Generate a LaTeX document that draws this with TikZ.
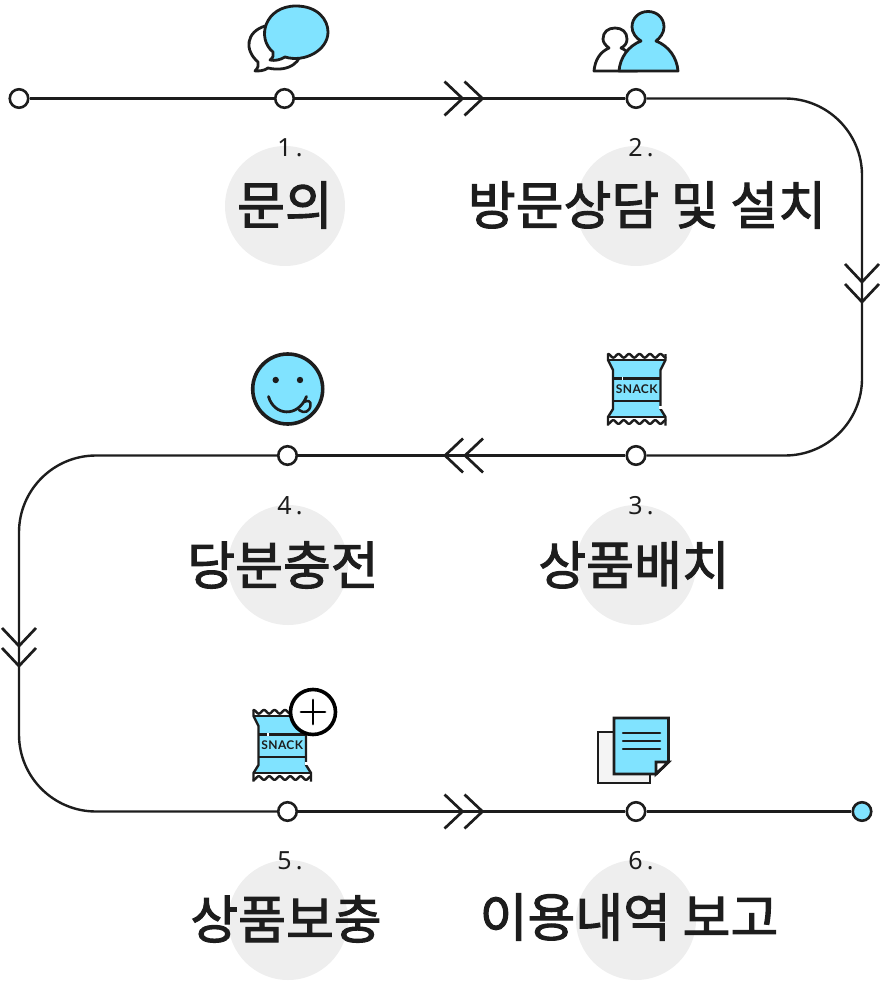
\documentclass[tikz,border=0pt]{standalone}
\usepackage{fontspec}
\newfontfamily\krfont[FakeBold=2]{Noto Sans CJK KR}
\newfontfamily\numfont{Noto Sans}
\newfontfamily\snackfont{Lato}
\definecolor{ink}{HTML}{1D1D1D}
\definecolor{sky}{HTML}{80E3FF}
\definecolor{disc}{HTML}{EEEEEE}
\definecolor{sheet}{HTML}{F4F4F4}
\tikzset{
  stop/.style={circle,draw=ink,line width=2.6pt,fill=white,minimum size=18.5pt,inner sep=0pt},
  route/.style={draw=ink,line width=2.4pt},
  chev/.style={draw=ink,line width=2.7pt,line join=miter},
  iconline/.style={draw=ink,line width=2.8pt,line join=round,line cap=round},
  greydisc/.style={circle,fill=disc,minimum size=120pt,inner sep=0pt},
  title/.style={text=ink,font=\krfont\fontsize{52}{52}\selectfont,inner sep=0pt},
  stepnum/.style={text=ink,font=\numfont\fontsize{25}{25}\selectfont,inner sep=0pt},
  chevrons/.pic={
    \draw[chev] (-19,-17) -- (-1,0) -- (-19,17);
    \draw[chev] (1,-17) -- (19,0) -- (1,17);
  },
  snack/.pic={
    \fill[sky] (0,6) -- (5,16) -- (5,55) -- (0,63) -- (57.5,63) -- (52.5,55) -- (52.5,16) -- (57.5,6) -- cycle;
    \draw[iconline,line width=2.4pt,line join=miter,line cap=butt] (0,0) -- (0,6) -- (5,16) -- (5,55) -- (0,63) -- (0,71.5);
    \draw[iconline,line width=2.4pt,line join=miter,line cap=butt] (57.5,0) -- (57.5,6) -- (52.5,16) -- (52.5,55) -- (57.5,63) -- (57.5,71.5);
    \draw[iconline,line width=2.4pt,line cap=butt] (0,6) -- (57.5,6);
    \draw[iconline,line width=2.4pt,line cap=butt] (0,63) -- (57.5,63);
    \draw[iconline,line width=2.4pt,line cap=butt] (5,24.3) -- (52.5,24.3);
    \draw[iconline,line width=2.4pt,line cap=butt] (5,46.7) -- (52.5,46.7);
    \draw[iconline,line width=2.4pt] plot[domain=0:57.5,samples=90,smooth] (\x,{1.8-1.8*cos(\x*34.3)});
    \draw[iconline,line width=2.4pt] plot[domain=0:57.5,samples=90,smooth] (\x,{68+1.8*cos(\x*34.3)});
    \fill[white] (13.5,22.8) rectangle (15.2,25.8);
    \fill[white] (51,52) rectangle (54,55);
    \node[text=ink,inner sep=0pt,font=\snackfont\bfseries\fontsize{12}{12}\selectfont] (#1) at (28.7,35.3) {\addfontfeature{LetterSpace=3}SNACK};
  }
}
\begin{document}
\begin{tikzpicture}[x=1pt,y=-1pt]
\useasboundingbox (0,0) rectangle (885,984);
% grey discs
\node[greydisc] (d1) at (285,206) {};
\node[greydisc] (d2) at (636,206) {};
\node[greydisc] (d3) at (636,565) {};
\node[greydisc] (d4) at (288,565) {};
\node[greydisc] (d5) at (288,920) {};
\node[greydisc] (d6) at (636,920) {};
% route nodes
\coordinate (c1) at (862,98.5);
\coordinate (c2) at (862,455.5);
\coordinate (c3) at (19,455.5);
\coordinate (c4) at (19,811.5);
\node[stop] (n0) at (19,98.5) {};
\node[stop] (n1) at (284.5,98.5) {};
\node[stop] (n2) at (636,98.5) {};
\node[stop] (n3) at (636,455.5) {};
\node[stop] (n4) at (287.5,455.5) {};
\node[stop] (n5) at (287.5,811.5) {};
\node[stop] (n6) at (636,811.5) {};
\node[stop,fill=sky] (n7) at (862,811.5) {};
\draw[route] (n0) -- (n1);
\draw[route] (n1) -- (n2);
\draw[route,rounded corners=77pt] (n2) -- (c1) -- (c2) -- (n3);
\draw[route] (n3) -- (n4);
\draw[route,rounded corners=77pt] (n4) -- (c3) -- (c4) -- (n5);
\draw[route] (n5) -- (n6);
\draw[route] (n6) -- (n7);
% chevrons
\pic at (463.5,98.5) {chevrons};
\pic[rotate=-90] at (862,283) {chevrons};
\pic[rotate=180] at (464,455.5) {chevrons};
\pic[rotate=-90] at (19,647) {chevrons};
\pic at (463.5,811.5) {chevrons};
% step 1 icon
\draw[iconline,fill=white] (255,71) .. controls (258,68) and (259,65) .. (258,62)
  .. controls (244,50) and (246,32) .. (265,26) -- (300,50)
  .. controls (303,60) and (290,73) .. (268,68) .. controls (264,71) and (259,71) .. (255,71) -- cycle;
\draw[iconline,fill=sky] (270,60) .. controls (273,58) and (274,55) .. (273,52)
  .. controls (256,38) and (265,6) .. (296,6)
  .. controls (318,6) and (328,20) .. (328,32)
  .. controls (328,50) and (305,63) .. (285,57)
  .. controls (280,60) and (275,61) .. (270,60) -- cycle;
% step 2 icon
\draw[iconline,fill=white] (594,71) .. controls (595,60) and (600,52) .. (609,48)
  .. controls (605,45) and (603,42) .. (603,39)
  .. controls (603,32) and (608,28) .. (615,28)
  .. controls (622,28) and (627,32) .. (627,39)
  .. controls (627,43) and (625,46) .. (621,48)
  .. controls (630,52) and (636,60) .. (637,71) -- cycle;
\draw[iconline,fill=sky] (619,71) .. controls (620,58) and (628,46) .. (641,41)
  .. controls (636,38) and (632,33) .. (632,27)
  .. controls (632,18) and (639,11.5) .. (648,11.5)
  .. controls (657,11.5) and (664,18) .. (664,27)
  .. controls (664,33) and (660,38) .. (656,41)
  .. controls (669,46) and (677,58) .. (678,71) -- cycle;
% step 3 icon
\pic at (608,354) {snack=sn1};
% step 4 icon
\draw[iconline,line width=3.6pt,fill=sky] (287.7,389) circle[radius=35];
\fill[ink] (275.7,380) circle[radius=3.2];
\fill[ink] (300,380) circle[radius=3.2];
\draw[iconline] (268.5,396.5) .. controls (274,416) and (298,418) .. (306.5,396.5);
\draw[iconline,line width=2.5pt] (304,402) .. controls (308,400) and (311,401) .. (310.5,405) .. controls (310,412) and (304,414) .. (299,410);
% step 5 icon
\pic at (253.5,710) {snack=sn2};
\node[circle,draw=black,line width=3.6pt,fill=white,minimum size=45pt,inner sep=0pt] (plus) at (313,712) {};
\draw[iconline,draw=black] ([xshift=-12pt]plus.center) -- ([xshift=12pt]plus.center);
\draw[iconline,draw=black] ([yshift=-12pt]plus.center) -- ([yshift=12pt]plus.center);
% step 6 icon
\draw[iconline,fill=sheet,line join=miter] (598,732) rectangle (650,783);
\draw[iconline,fill=sky,line join=miter] (614,718) -- (668.5,718) -- (668.5,762) -- (656,774) -- (614,774) -- cycle;
\draw[iconline,fill=white,line join=miter] (668.5,762) -- (656,762) -- (656,774) -- cycle;
\draw[iconline,line width=2.5pt] (623,733) -- (660,733);
\draw[iconline,line width=2.5pt] (623,741) -- (660,741);
\draw[iconline,line width=2.5pt] (623,749) -- (660,749);
% labels
\node[stepnum] (l1) at (290,148) {1\,.};
\node[stepnum] (l2) at (641,148) {2\,.};
\node[stepnum] (l3) at (641,506) {3\,.};
\node[stepnum] (l4) at (290,506) {4\,.};
\node[stepnum] (l5) at (290,861) {5\,.};
\node[stepnum] (l6) at (641,861) {6\,.};
\node[title] (t1) at (285,205) {문의};
\node[title] (t2) at (647,205) {방문상담 및 설치};
\node[title] (t3) at (634,565) {상품배치};
\node[title] (t4) at (283,565) {당분충전};
\node[title] (t5) at (286,919) {상품보충};
\node[title] (t6) at (629,917) {이용내역 보고};
\end{tikzpicture}
\end{document}
